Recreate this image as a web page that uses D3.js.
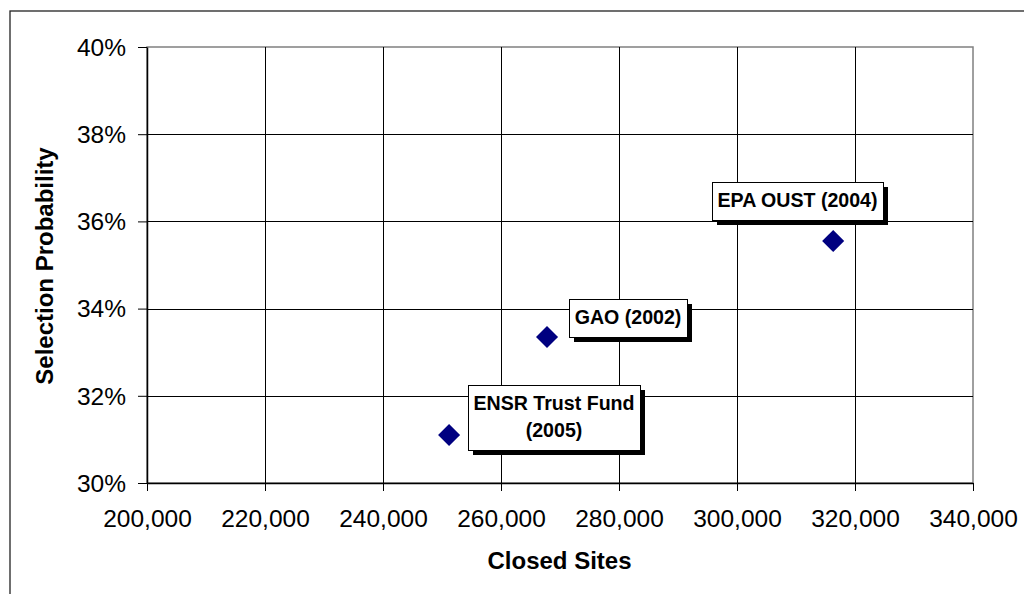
<!DOCTYPE html>
<html lang="en">
  <head>
    <meta charset="utf-8" />
    <title>Selection Probability vs Closed Sites</title>
    <script src="https://d3js.org/d3.v7.min.js"></script>
    <style>
      body { margin: 0; background: #fff; }
      text { font-family: "Liberation Sans", Arial, sans-serif; }
    </style>
  </head>
  <body>
    <div id="svgContainer"></div>
  </body>
  <script>
    // data
    var sources = ["ENSR Trust Fund (2005)", "GAO (2002)", "EPA OUST (2004)"];
    var labelLines = [["ENSR Trust Fund", "(2005)"], ["GAO (2002)"], ["EPA OUST (2004)"]];
    var closedSites = [251200, 267800, 316300];
    var selectionProb = [0.3110, 0.3335, 0.3555];
    var xTicks = [200000, 220000, 240000, 260000, 280000, 300000, 320000, 340000];
    var yTicks = [0.30, 0.32, 0.34, 0.36, 0.38, 0.40];

    // where each callout box sits relative to its point (px)
    var labelOffsets = [[19, -50], [22, -38], [-121, -59]];

    var width = 1024,
        height = 594,
        plotL = 147, plotR = 973, plotT = 47, plotB = 483;

    var svg = d3.select("#svgContainer")
                .append("svg")
                .attr("width", width)
                .attr("height", height);

    // outer chart frame (only top and left edges are visible)
    svg.append("rect")
       .attr("x", 10).attr("y", 11)
       .attr("width", 1030).attr("height", 600)
       .attr("fill", "none")
       .attr("stroke", "#222")
       .attr("stroke-width", 1.3);

    var x = d3.scaleLinear().domain([200000, 340000]).range([plotL, plotR]);
    var y = d3.scaleLinear().domain([0.30, 0.40]).range([plotB, plotT]);

    // plot area border (grey top/right)
    svg.append("rect")
       .attr("x", plotL).attr("y", plotT)
       .attr("width", plotR - plotL).attr("height", plotB - plotT)
       .attr("fill", "none")
       .attr("stroke", "#808080")
       .attr("stroke-width", 1.5);

    // gridlines
    svg.append("g").selectAll("line")
       .data(xTicks.slice(1, -1))
       .enter().append("line")
       .attr("x1", function(d) { return Math.round(x(d)) + 0.5; })
       .attr("x2", function(d) { return Math.round(x(d)) + 0.5; })
       .attr("y1", plotT).attr("y2", plotB)
       .attr("stroke", "#000").attr("stroke-width", 1);

    svg.append("g").selectAll("line")
       .data(yTicks.slice(1, -1))
       .enter().append("line")
       .attr("y1", function(d) { return Math.round(y(d)) + 0.5; })
       .attr("y2", function(d) { return Math.round(y(d)) + 0.5; })
       .attr("x1", plotL).attr("x2", plotR)
       .attr("stroke", "#000").attr("stroke-width", 1);

    // axes
    var fmtX = d3.format(",");
    var fmtY = d3.format(".0%");

    var xAxis = svg.append("g")
       .attr("transform", "translate(0," + plotB + ")")
       .call(d3.axisBottom(x).tickValues(xTicks).tickFormat(fmtX)
             .tickSize(8).tickPadding(19).tickSizeOuter(0));

    var yAxis = svg.append("g")
       .attr("transform", "translate(" + plotL + ",0)")
       .call(d3.axisLeft(y).tickValues(yTicks).tickFormat(fmtY)
             .tickSize(9).tickPadding(12).tickSizeOuter(0));

    [xAxis, yAxis].forEach(function(g) {
      g.select(".domain").attr("stroke", "#000").attr("stroke-width", 1.5);
      g.selectAll(".tick line").attr("stroke", "#000");
      g.selectAll(".tick text")
       .attr("fill", "#000")
       .style("font-size", "24.5px")
       .style("font-family", "'Liberation Sans', Arial, sans-serif");
    });
    yAxis.selectAll(".tick text").attr("dy", "0.34em");

    // axis titles
    svg.append("text")
       .attr("x", 559.5).attr("y", 569)
       .attr("text-anchor", "middle")
       .style("font-size", "24px").style("font-weight", "bold")
       .text("Closed Sites");

    svg.append("text")
       .attr("transform", "translate(53,266) rotate(-90)")
       .attr("text-anchor", "middle")
       .style("font-size", "24px").style("font-weight", "bold")
       .text("Selection Probability");

    // points
    var points = sources.map(function(s, i) {
      return { name: s, lines: labelLines[i], x: closedSites[i], y: selectionProb[i], off: labelOffsets[i] };
    });

    var diamond = d3.symbol().type(d3.symbolSquare).size(243);

    svg.append("g").selectAll("path")
       .data(points)
       .enter().append("path")
       .attr("d", diamond)
       .attr("transform", function(d) { return "translate(" + x(d.x) + "," + y(d.y) + ") rotate(45)"; })
       .attr("fill", "#000080");

    // callout labels with drop shadow
    var lineH = 27, padX = 5, padY = 6;
    var callouts = svg.append("g").selectAll("g")
       .data(points)
       .enter().append("g")
       .attr("transform", function(d) {
         return "translate(" + Math.round(x(d.x) + d.off[0]) + "," + Math.round(y(d.y) + d.off[1]) + ")";
       });

    callouts.each(function(d) {
      var g = d3.select(this);
      var shadow = g.append("rect").attr("fill", "#000");
      var box = g.append("rect").attr("fill", "#fff").attr("stroke", "#000").attr("stroke-width", 1);
      var txt = g.append("text")
        .attr("text-anchor", "middle")
        .style("font-size", "19.6px").style("font-weight", "bold");
      var maxW = 0;
      d.lines.forEach(function(l) {
        var t = txt.append("tspan").text(l);
        maxW = Math.max(maxW, t.node().getComputedTextLength());
      });
      var w = Math.round(maxW + 2 * padX + 1), h = Math.round(d.lines.length * lineH + padY * 2 - 1);
      txt.selectAll("tspan")
         .attr("x", w / 2)
         .attr("y", function(l, j) { return padY + 19 + j * lineH; });
      box.attr("x", 0.5).attr("y", 0.5).attr("width", w).attr("height", h);
      shadow.attr("x", 5).attr("y", 5).attr("width", w).attr("height", h);
    });
  </script>
</html>
